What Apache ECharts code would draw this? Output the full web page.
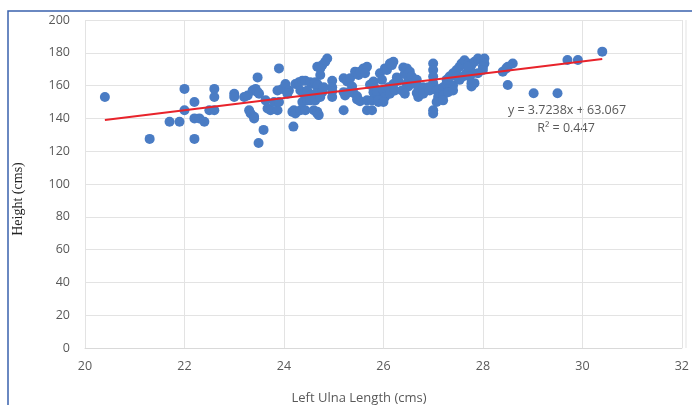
<!DOCTYPE html>
<html>
<head>
<meta charset="utf-8">
<script src="https://cdn.jsdelivr.net/npm/echarts@6/dist/echarts.min.js"></script>
<style>
html,body{margin:0;padding:0;background:#fff;}
#c{width:692px;height:405px;}
</style>
</head>
<body>
<div id="c"></div>
<script>
// Left ulna length (cm)
var ulnaLength = [
20.4,21.3,21.7,21.9,22.0,22.0,22.2,22.2,22.3,22.4,22.2,22.5,22.6,22.6,22.6,
23.0,23.0,23.2,23.27,23.37,23.43,23.47,23.47,23.5,23.3,23.33,23.4,23.4,23.59,23.49,
23.63,23.67,23.73,23.8,23.87,23.9,23.9,23.87,23.97,24.03,24.1,24.07,
24.2,24.17,24.23,24.33,24.43,24.19,24.23,24.3,24.37,24.43,24.53,24.6,24.67,
24.33,24.4,24.47,24.53,24.6,24.67,24.37,24.47,24.53,24.63,24.7,24.6,24.67,24.67,
24.87,24.83,24.77,24.73,24.73,24.63,24.67,24.63,24.77,24.8,24.73,24.67,24.7,
24.97,24.97,24.97,24.97,25.2,25.27,25.33,25.37,25.4,25.47,25.47,25.53,25.2,25.2,25.23,25.3,
25.43,25.5,25.53,25.6,25.67,25.63,25.67,25.77,25.67,25.77,25.8,25.9,25.9,
25.73,25.8,25.83,25.87,25.93,25.97,26.03,26.07,26.13,26.17,26.2,
26.0,26.03,26.1,26.13,26.2,26.23,26.27,26.3,26.4,26.43,26.47,26.5,
26.47,26.53,26.57,26.5,26.57,26.67,26.67,26.67,26.7,26.8,26.8,
27.0,27.0,27.0,27.0,27.0,27.0,27.0,26.9,26.93,27.07,27.13,27.2,27.27,27.33,27.4,
27.27,27.33,27.4,27.47,27.53,27.57,27.63,27.7,27.77,27.83,27.9,27.97,28.03,28.03,
27.47,27.53,27.6,27.67,27.73,27.8,27.83,27.77,28.0,28.0,27.7,27.77,27.9,
28.4,28.47,28.5,28.6,28.5,29.02,29.5,29.7,29.91,30.4,
27.1,27.2,27.3,27.4,27.07,27.2,26.37,26.43,25.9,26.0
];
// Height (cm)
var heightCm = [
153,127.5,138,138,158,145,150,140,140,138,127.5,145,145,153,158,
155,153,153,154,157,158,165,156,155,145,143,141,140,133,125,
151,146,145,150,145,150,170.5,157,158,161,157,155,
145,144,143,145,145,135,161,162,163,163,162,161,161,
157,155,157,154,152,155,150,151,151,151,153,145,143,171.5,
176.5,174.5,172.5,170.5,166.5,162,160,155,156,159,153,144,142,
163,159,156.5,153,164.5,162.5,164.5,159.5,155.5,153.5,151.5,150.5,145,156,154,156,
168.5,166.5,168.5,170.5,171.5,167.5,145,145,151,151,156,153,150,
160.5,162.5,158.5,156.5,167.5,163.5,170.5,169.5,173.5,172.5,174.5,
157,153,159,155,161,157,165,163,171,167,161,163,
170.5,168.5,165.5,159.5,161.5,163.5,160.5,155.5,153,159,155,
173.5,169.5,165.5,161.5,158.5,145,143,159,157,157,158,159,161,161,160,
163.5,165.5,167.5,169.5,171.5,173.5,175.5,173.5,172.5,174.5,176.5,175.5,176.5,173.5,
165.5,163.5,165.5,167.5,165.5,167.5,161.5,159.5,171.5,169.5,171.5,161.5,167.5,
168.5,170.5,171.5,173.5,160.4,155.3,155.3,175.6,175.6,180.7,
153,154,156,157,150,151,157,155,151,150
];
// Linear trendline (from the chart's equation)
var trendSlope = 3.7238;
var trendIntercept = 63.067;
var rSquared = 0.447;
var xTicks = [20,22,24,26,28,30,32];
var yTicks = [0,20,40,60,80,100,120,140,160,180,200];

var points = ulnaLength.map(function(x,i){return [x, heightCm[i]];});
var xMinData = Math.min.apply(null, ulnaLength);
var xMaxData = Math.max.apply(null, ulnaLength);
var trend = [xMinData, xMaxData].map(function(x){return [x, trendSlope*x + trendIntercept];});

var chart = echarts.init(document.getElementById('c'), null, {renderer:'canvas'});
var labelColor = '#595959';
chart.setOption({
  animation:false,
  backgroundColor:'#ffffff',
  grid:{left:85,right:6,top:20,bottom:57,containLabel:false},
  xAxis:{
    type:'value', min:xTicks[0], max:xTicks[xTicks.length-1], interval:2,
    axisLine:{show:true,lineStyle:{color:'#d9d9d9'}},
    axisTick:{show:false},
    axisLabel:{color:labelColor,fontSize:12.5,fontFamily:'Open Sans',margin:12,showMaxLabel:true},
    splitLine:{show:true,lineStyle:{color:'#e3e3e3',width:1}}
  },
  yAxis:{
    type:'value', min:yTicks[0], max:yTicks[yTicks.length-1], interval:20,
    axisLine:{show:false},
    axisTick:{show:false},
    axisLabel:{color:labelColor,fontSize:12.5,fontFamily:'Open Sans',margin:15},
    splitLine:{show:true,lineStyle:{color:'#e3e3e3',width:1}}
  },
  series:[
    {type:'scatter',data:points,symbolSize:10,
     itemStyle:{color:'#4a7cc4',opacity:1},z:2},
    {type:'line',data:trend,showSymbol:false,symbol:'none',
     lineStyle:{color:'#e8232b',width:2},z:3,silent:true}
  ],
  graphic:[
    {type:'line',shape:{x1:686,y1:20,x2:686,y2:348},style:{stroke:'#e3e3e3',lineWidth:1},silent:true,z:0},
    {type:'rect',shape:{x:8,y:11,width:720,height:440},style:{fill:'none',stroke:'#3a62ad',lineWidth:1.5},silent:true},
    {type:'text',x:567,y:110,style:{text:'y = '+trendSlope+'x + '+trendIntercept.toFixed(3),fill:labelColor,font:'12.5px "Open Sans"',textAlign:'center',textVerticalAlign:'middle'}},
    {type:'text',x:566,y:128,style:{text:'R\u00b2 = '+rSquared,fill:labelColor,font:'12.5px "Open Sans"',textAlign:'center',textVerticalAlign:'middle'}},
    {type:'text',x:359,y:398,style:{text:'Left Ulna Length (cms)',fill:labelColor,font:'13px "Open Sans"',textAlign:'center',textVerticalAlign:'middle'}},
    {type:'text',x:18,y:199,rotation:Math.PI/2,style:{text:'Height (cms)',fill:'#222222',font:'14px "Liberation Serif"',textAlign:'center',textVerticalAlign:'middle'}}
  ]
});
</script>
</body>
</html>
